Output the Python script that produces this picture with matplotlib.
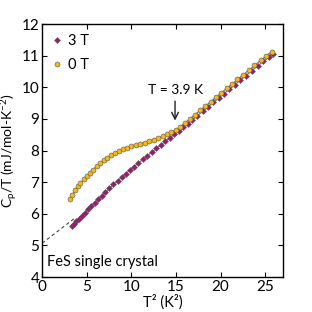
import matplotlib
matplotlib.use('Agg')
import matplotlib.pyplot as plt

plt.rcParams['font.family'] = ['Lato', 'DejaVu Sans']
plt.rcParams['mathtext.default'] = 'regular'

# T^2 (K^2) and Cp/T (mJ/mol-K^2)
t2_3T = [3.3, 3.55, 3.85, 4.15, 4.45, 4.8, 5.15, 5.5, 5.9, 6.3,
         6.7, 7.1, 7.55, 8.0, 8.45, 8.9, 9.35, 9.8, 10.3, 10.8,
         11.3, 11.8, 12.3, 12.8, 13.3, 13.8, 14.3, 14.8, 15.3, 15.8,
         16.3, 16.85, 17.4, 18.0, 18.6, 19.2, 19.8, 20.4, 21.0, 21.6,
         22.2, 22.85, 23.5, 24.15, 24.8, 25.4, 25.86]
cp_3T = [5.61, 5.68, 5.77, 5.85, 5.94, 6.04, 6.14, 6.24, 6.35, 6.46,
         6.57, 6.68, 6.81, 6.93, 7.04, 7.15, 7.26, 7.37, 7.49, 7.61,
         7.72, 7.84, 7.95, 8.07, 8.18, 8.29, 8.40, 8.51, 8.62, 8.73,
         8.85, 8.97, 9.10, 9.24, 9.38, 9.52, 9.66, 9.80, 9.94, 10.08,
         10.22, 10.37, 10.52, 10.67, 10.82, 10.95, 11.06]

t2_0T = [3.14, 3.4, 3.7, 4.0, 4.3, 4.65, 5.0, 5.35, 5.7, 6.1,
         6.5, 6.9, 7.3, 7.75, 8.2, 8.65, 9.1, 9.55, 10.0, 10.5,
         11.0, 11.5, 12.0, 12.5, 13.0, 13.5, 14.0, 14.5, 15.0, 15.5,
         16.0, 16.6, 17.1, 17.7, 18.3, 18.9, 19.5, 20.1, 20.7, 21.3,
         21.9, 22.5, 23.2, 23.8, 24.5, 25.1, 25.75]
cp_0T = [6.47, 6.6, 6.74, 6.87, 6.98, 7.09, 7.2, 7.3, 7.4, 7.5,
         7.6, 7.69, 7.77, 7.85, 7.93, 7.99, 8.05, 8.09, 8.13, 8.17,
         8.21, 8.25, 8.29, 8.34, 8.39, 8.45, 8.51, 8.58, 8.66, 8.76,
         8.87, 9.01, 9.13, 9.27, 9.41, 9.55, 9.69, 9.83, 9.97, 10.11,
         10.25, 10.39, 10.55, 10.69, 10.85, 10.99, 11.13]

# low-T linear fit (dashed)
fit_x = [0, 3.6]
fit_y = [5.07, 5.85]

fig = plt.figure(figsize=(3.12, 3.12), dpi=100)
ax = fig.add_axes([0.135, 0.112, 0.772, 0.811])

ax.plot(fit_x, fit_y, '--', color='#444444', lw=0.8, dashes=(3, 2.5))
ax.plot(t2_0T, cp_0T, '-', color='#777777', lw=0.8)
ax.plot(t2_3T, cp_3T, '-', color='#777777', lw=0.8)
ax.plot(t2_3T, cp_3T, 'D', ms=3.0, mfc='#a3176f', mec='#555555', mew=0.4, ls='none', label='3 T')
ax.plot(t2_0T, cp_0T, 'o', ms=3.6, mfc='#f5b81c', mec='#555555', mew=0.4, ls='none', label='0 T')

ax.set_xlim(0, 27)
ax.set_ylim(4, 12)
ax.set_xticks([0, 5, 10, 15, 20, 25])
ax.set_yticks([4, 5, 6, 7, 8, 9, 10, 11, 12])
ax.tick_params(direction='in', top=True, right=True, length=3.5, width=0.8, labelsize=11, pad=2)
for s in ax.spines.values():
    s.set_linewidth(1.0)

ax.set_xlabel('T² (K²)', fontsize=10.5)
ax.set_ylabel('C$_p$/T (mJ/mol-K$^{-2}$)', fontsize=10)
ax.xaxis.set_label_coords(0.5, -0.07)
ax.yaxis.set_label_coords(-0.09, 0.5)

ax.annotate('', xy=(14.9, 8.86), xytext=(14.9, 9.65),
            arrowprops=dict(arrowstyle='->', color='#222222', lw=1.0, mutation_scale=12))
ax.text(15.0, 9.72, 'T = 3.9 K', ha='center', va='bottom', fontsize=10)
ax.text(0.6, 4.25, 'FeS single crystal', ha='left', va='bottom', fontsize=10.5)

ax.legend(loc='upper left', frameon=False, fontsize=10.5, handlelength=0.6,
          handletextpad=0.5, borderaxespad=0.3, labelspacing=0.7)

fig.savefig('out.png', dpi=100)
